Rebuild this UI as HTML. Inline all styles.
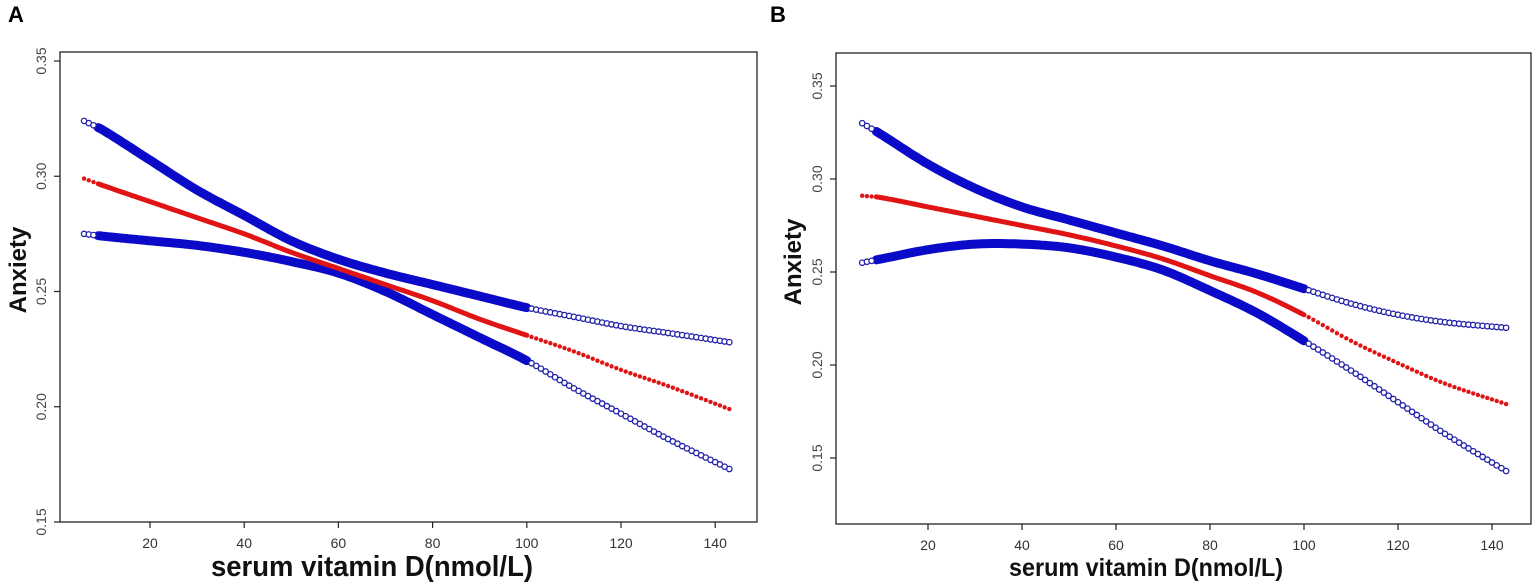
<!DOCTYPE html>
<html><head><meta charset="utf-8"><style>
body{margin:0;background:#fff;width:1535px;height:588px;overflow:hidden}
svg{display:block}
text{font-family:"Liberation Sans",sans-serif}
</style></head><body>
<svg id="chart" width="1535" height="588" viewBox="0 0 1535 588"></svg>
<script>
const xTicks=[20,40,60,80,100,120,140];
const yTicksA=[0.15,0.20,0.25,0.30,0.35];
const yTicksB=[0.15,0.20,0.25,0.30,0.35];
const knotsX=[6,10,20,30,40,50,60,70,80,90,100,110,120,130,143];
const aUpper=[.324,.320,.307,.294,.283,.272,.264,.258,.253,.248,.243,.239,.235,.232,.228];
const aFit=[.299,.296,.289,.282,.275,.267,.260,.253,.246,.238,.231,.224,.216,.209,.199];
const aLower=[.275,.274,.272,.270,.267,.263,.258,.250,.240,.230,.220,.208,.197,.186,.173];
const bUpper=[.330,.324,.308,.295,.285,.278,.271,.264,.256,.249,.241,.233,.227,.223,.220];
const bFit=[.291,.290,.285,.280,.275,.270,.264,.257,.248,.239,.227,.213,.201,.190,.179];
const bLower=[.255,.257,.262,.265,.265,.263,.258,.251,.240,.228,.213,.197,.180,.163,.143];
const NS='http://www.w3.org/2000/svg';
const svg=document.getElementById('chart');
function mk(tag,attrs,parent){const e=document.createElementNS(NS,tag);for(const k in attrs)e.setAttribute(k,attrs[k]);(parent||svg).appendChild(e);return e;}
function interp(arr,x){
  const n=knotsX.length;
  for(let i=0;i<n-1;i++){
    if(x<=knotsX[i+1]||i===n-2){
      const x0=knotsX[i],x1=knotsX[i+1],h=x1-x0,t=(x-x0)/h;
      const m=j=>{if(j===0)return (arr[1]-arr[0])/(knotsX[1]-knotsX[0]);if(j===n-1)return (arr[n-1]-arr[n-2])/(knotsX[n-1]-knotsX[n-2]);return (arr[j+1]-arr[j-1])/(knotsX[j+1]-knotsX[j-1]);};
      const t2=t*t,t3=t2*t;
      return (2*t3-3*t2+1)*arr[i]+(t3-2*t2+t)*h*m(i)+(-2*t3+3*t2)*arr[i+1]+(t3-t2)*h*m(i+1);
    }
  }
  return arr[n-1];
}
function panel(p){
  const g=mk('g',{});
  
  
  const xs=v=>p.x20+(v-20)*p.kx;
  const ys=v=>p.y35+(0.35-v)*p.ky;
  const lt=mk('text',{x:p.letterX,y:22,'font-size':22,'font-weight':'bold',fill:'#000'},g);lt.textContent=p.id;
  
  const box=mk('rect',{x:p.L,y:p.T,width:p.R-p.L,height:p.B-p.T,fill:'none',stroke:'#222','stroke-width':1.3},g);
  
  p.yt.forEach(v=>{const y=ys(v);
    mk('line',{x1:p.L-6,x2:p.L,y1:y,y2:y,stroke:'#222','stroke-width':1.2},g);
    const t=mk('text',{x:p.L-14,y:y,'font-size':14,fill:'#444','text-anchor':'middle',transform:`rotate(-90 ${p.L-14} ${y})`},g);
    t.textContent=v.toFixed(2);
    });
  xTicks.forEach(v=>{const x=xs(v);
    mk('line',{x1:x,x2:x,y1:p.B,y2:p.B+6,stroke:'#222','stroke-width':1.2},g);
    const t=mk('text',{x:x,y:p.B+26,'font-size':14,fill:'#333','text-anchor':'middle'},g);
    t.textContent=v;
    });
  const yt=mk('text',{x:p.ytX,y:p.ytY,'font-size':24,'font-weight':'bold',fill:'#111','text-anchor':'middle',transform:`rotate(-90 ${p.ytX} ${p.ytY})`},g);
  yt.textContent='Anxiety';
  const xt=mk('text',{x:p.xtX,y:576,'font-size':p.xtSize,'font-weight':'bold',fill:'#111','text-anchor':'middle',textLength:p.xtLen,lengthAdjust:'spacingAndGlyphs'},g);
  xt.textContent='serum vitamin D(nmol/L)';
  const series=[[p.upper,'#0a0ac8','ci-upper',9,false],[p.lower,'#0a0ac8','ci-lower',9,false],[p.fit,'#e01414','fitted-curve',5,true]];
  series.forEach(s=>{
    const sg=mk('g',{},g);
    
    let d='';for(let v=9;v<=100.01;v+=0.5){d+=(d?'L':'M')+xs(v).toFixed(1)+','+ys(interp(s[0],v)).toFixed(1);}
    mk('path',{d:d,fill:'none',stroke:s[1],'stroke-width':s[3],'stroke-linecap':'round'},sg);
    const pts=[6,7,8];for(let v=101;v<=143;v++)pts.push(v);
    pts.forEach(v=>{if(s[4])mk('circle',{cx:xs(v),cy:ys(interp(s[0],v)),r:2.2,fill:s[1]},sg);else mk('circle',{cx:xs(v),cy:ys(interp(s[0],v)),r:2.7,fill:'#fff',stroke:'#2020a8','stroke-width':1.3},sg);});
  });
}
panel({id:'A',letterX:8,L:60,T:52,R:757,B:522,x20:150,kx:4.71,y35:61,ky:2305,yt:yTicksA,ytX:26,ytY:270,xtX:372,xtSize:29,xtLen:322,upper:aUpper,fit:aFit,lower:aLower});
panel({id:'B',letterX:770,L:836,T:53,R:1531,B:524,x20:928,kx:4.70,y35:86,ky:1860,yt:yTicksB,ytX:801,ytY:262,xtX:1146,xtSize:25,xtLen:274,upper:bUpper,fit:bFit,lower:bLower});
</script>
</body></html>
